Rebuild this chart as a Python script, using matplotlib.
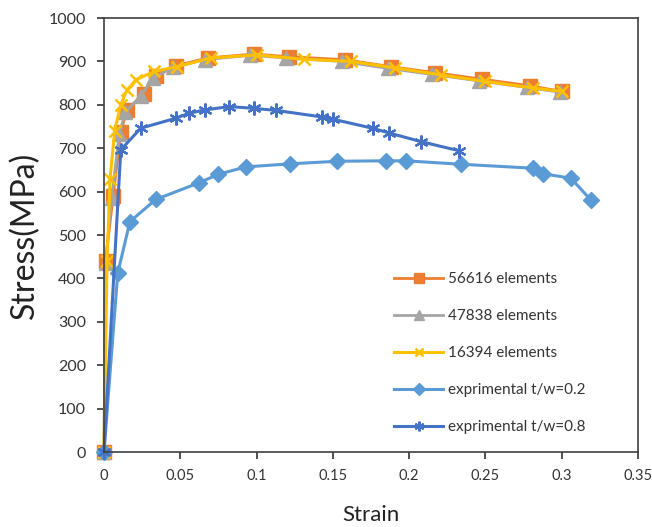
import numpy as np
import matplotlib
matplotlib.use("Agg")
import matplotlib.pyplot as plt

plt.rcParams['font.family'] = ['Lato', 'DejaVu Sans']

# 56616 elements
x_56616 = [0, 0.001, 0.006, 0.011, 0.015, 0.026, 0.034, 0.047, 0.068, 0.098, 0.121, 0.158, 0.188, 0.217, 0.248, 0.279, 0.300]
y_56616 = [0, 440, 590, 737, 788, 825, 866, 890, 908, 917, 911, 904, 888, 874, 859, 844, 831]
# 47838 elements
x_47838 = [0, 0.001, 0.005, 0.010, 0.014, 0.024, 0.032, 0.045, 0.066, 0.096, 0.119, 0.156, 0.186, 0.215, 0.246, 0.277, 0.299]
y_47838 = [0, 436, 586, 733, 783, 820, 861, 886, 904, 914, 908, 900, 884, 870, 855, 840, 829]
# 16394 elements
x_16394 = [0, 0.002, 0.004, 0.007, 0.011, 0.015, 0.021, 0.033, 0.048, 0.070, 0.100, 0.131, 0.162, 0.191, 0.221, 0.250, 0.281, 0.300]
y_16394 = [0, 440, 630, 740, 800, 834, 858, 877, 888, 908, 915, 905, 900, 885, 869, 854, 839, 831]
# experimental t/w=0.2
x_exp02 = [0, 0.009, 0.017, 0.034, 0.062, 0.075, 0.093, 0.122, 0.153, 0.185, 0.198, 0.234, 0.281, 0.288, 0.306, 0.319]
y_exp02 = [0, 412, 531, 582, 620, 640, 657, 664, 670, 671, 671, 663, 654, 641, 631, 581]
# experimental t/w=0.8
x_exp08 = [0, 0.011, 0.024, 0.047, 0.056, 0.066, 0.082, 0.098, 0.113, 0.143, 0.150, 0.176, 0.187, 0.208, 0.233]
y_exp08 = [0, 696, 746, 769, 781, 788, 796, 792, 787, 772, 767, 746, 735, 715, 694]

labels = ['56616 elements', '47838 elements', '16394 elements',
          'exprimental t/w=0.2', 'exprimental t/w=0.8']

fig = plt.figure(figsize=(6.52, 5.27), dpi=100)
ax = fig.add_axes([0.1595, 0.1423, 0.819, 0.8235])

ax.plot(x_56616, y_56616, color='#ED7D31', lw=2, marker='s', ms=10.5, label=labels[0], clip_on=False)
ax.plot(x_47838, y_47838, color='#A5A5A5', lw=2, marker='^', ms=10.5, label=labels[1], clip_on=False)
ax.plot(x_16394, y_16394, color='#FFC000', lw=2.2, marker='x', ms=9, mew=1.8, label=labels[2], clip_on=False)
ax.plot(x_exp02, y_exp02, color='#5B9BD5', lw=2.2, marker='D', ms=8.5, label=labels[3], clip_on=False)
ax.plot(x_exp08, y_exp08, color='#4472C4', lw=2.2, marker=(6, 2, 0), ms=10, mew=1.6, label=labels[4], clip_on=False)

ax.set_xlim(0, 0.35)
ax.set_ylim(0, 1000)
ax.set_xticks(np.arange(0, 0.351, 0.05))
ax.set_xticklabels(['0', '0.05', '0.1', '0.15', '0.2', '0.25', '0.3', '0.35'])
ax.set_yticks(np.arange(0, 1001, 100))
ax.tick_params(colors='#333333', length=5, width=1.2)
ax.tick_params(axis='y', pad=8, labelsize=11.5)
ax.tick_params(axis='x', pad=7, labelsize=10.5)
for s in ax.spines.values():
    s.set_color('#404040')
    s.set_linewidth(1.2)

ax.set_xlabel('Strain', fontsize=16, color='#222222', labelpad=16)
ax.set_ylabel('Stress(MPa)', fontsize=23, color='#222222', labelpad=6)

leg = ax.legend(loc='center left', bbox_to_anchor=(0.532, 0.228), frameon=False,
                fontsize=11, handlelength=3.2, labelspacing=1.5, handletextpad=0.3,
                markerscale=0.7, borderaxespad=0)
for t in leg.get_texts():
    t.set_color('#333333')

fig.savefig('out.png', dpi=100)
